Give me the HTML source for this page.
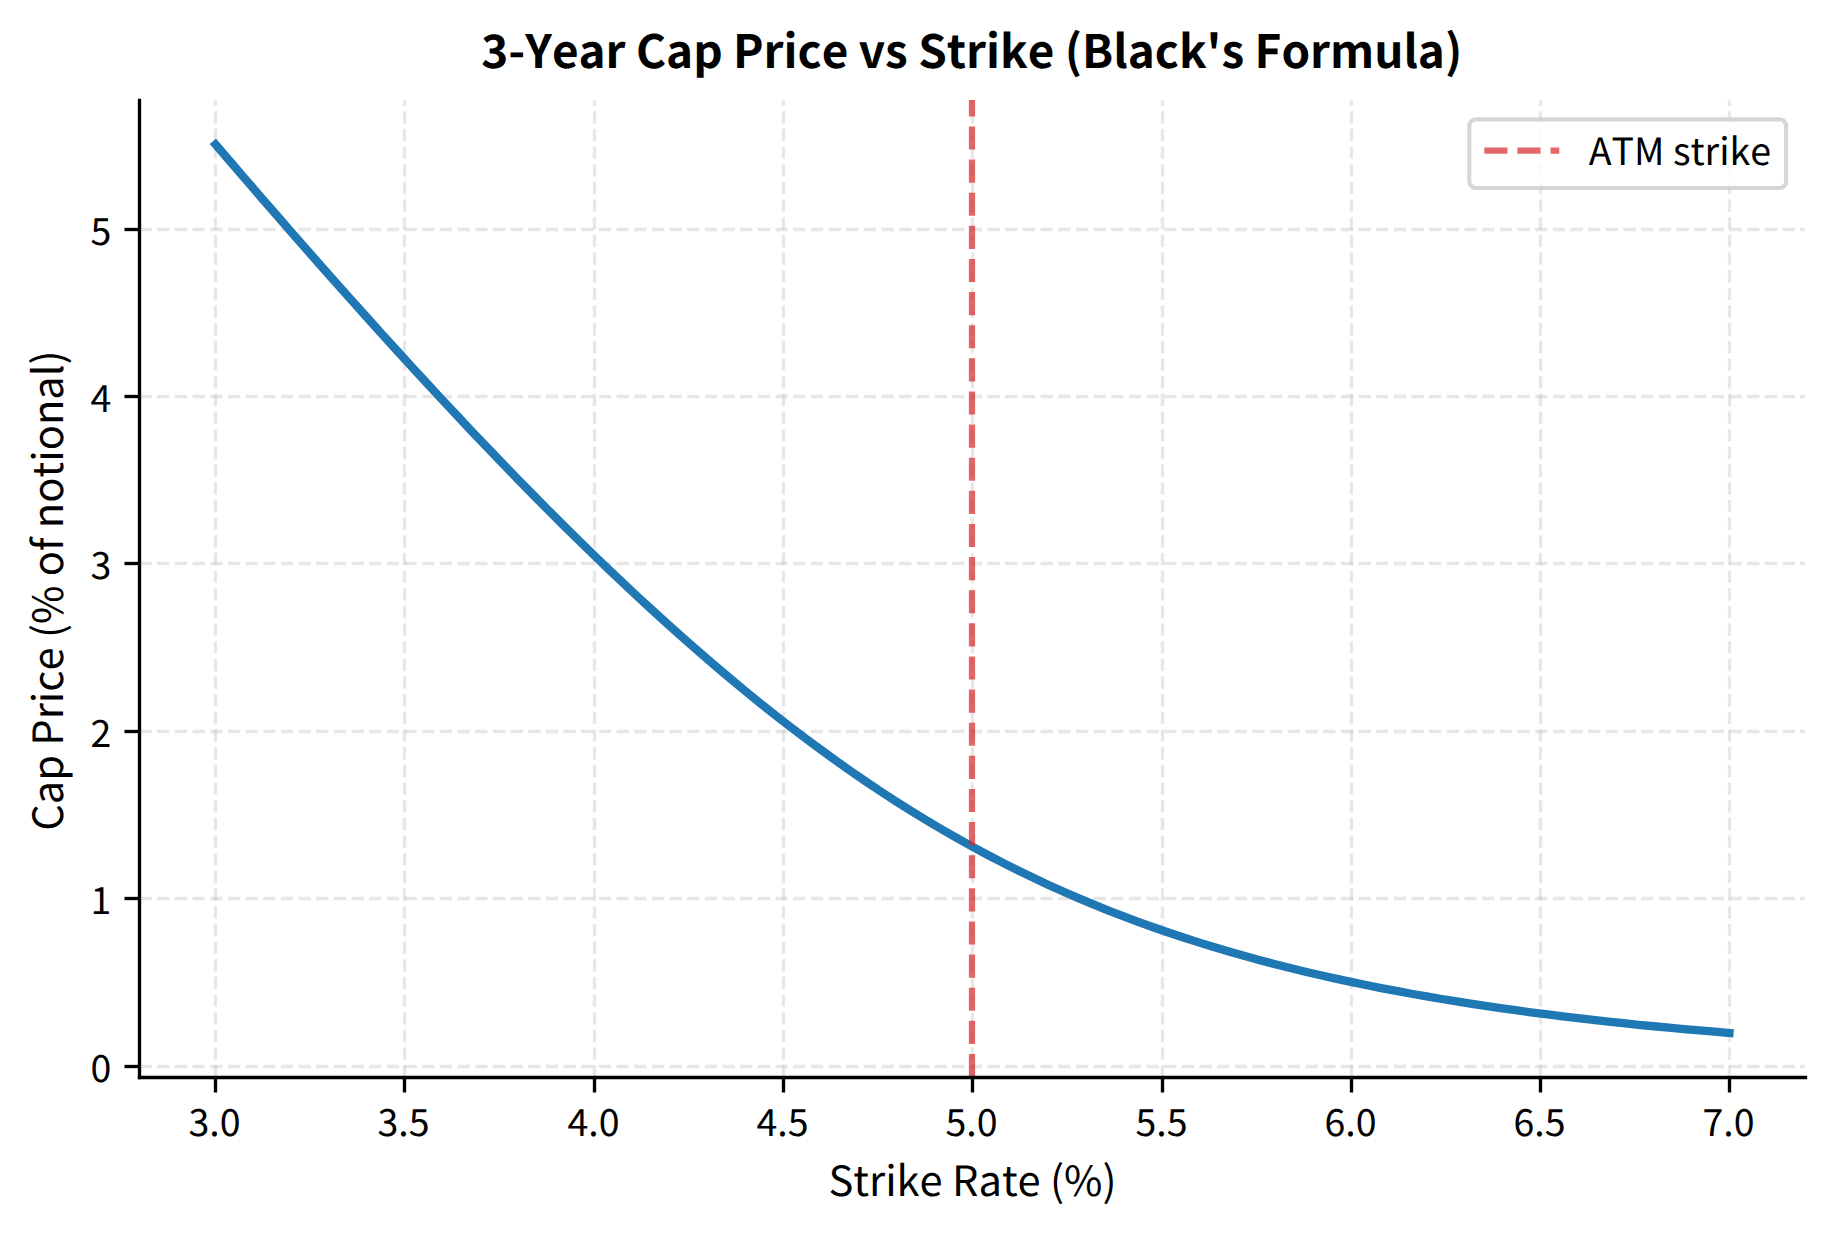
<!DOCTYPE html>
<html lang="en"><head><meta charset="utf-8"><title>3-Year Cap Price vs Strike (Black's Formula)</title>
<style>
html,body{margin:0;padding:0;background:#fff;}
body{width:1834px;height:1234px;overflow:hidden;}
svg{display:block;}
text{font-family:"Noto Sans CJK JP","Noto Sans CJK SC","Liberation Sans",sans-serif;fill:#000;font-kerning:none;font-feature-settings:"kern" 0,"liga" 0;text-rendering:geometricPrecision;}
.tick{font-size:37.5px;}
.lab{font-size:41.67px;}
.title{font-size:45.83px;font-weight:bold;}
</style></head><body>
<svg width="1834" height="1234" viewBox="0 0 1834 1234">
<rect width="1834" height="1234" fill="#fff"/>
<g fill="none" stroke="#b0b0b0" stroke-opacity="0.3" stroke-width="3.333" stroke-dasharray="12.333 5.333">
<path d="M215.5 1077.5 V100.5"/>
<path d="M404.5 1077.5 V100.5"/>
<path d="M594.5 1077.5 V100.5"/>
<path d="M783.5 1077.5 V100.5"/>
<path d="M972.5 1077.5 V100.5"/>
<path d="M1162.5 1077.5 V100.5"/>
<path d="M1351.5 1077.5 V100.5"/>
<path d="M1540.5 1077.5 V100.5"/>
<path d="M1729.5 1077.5 V100.5"/>
<path d="M139.5 1066.5 H1805.0"/>
<path d="M139.5 898.5 H1805.0"/>
<path d="M139.5 731.5 H1805.0"/>
<path d="M139.5 563.5 H1805.0"/>
<path d="M139.5 396.5 H1805.0"/>
<path d="M139.5 229.5 H1805.0"/>
</g>
<polyline points="215.55,144.53 230.19,161.58 245.34,179.15 260.48,196.65 275.63,214.08 290.77,231.43 305.91,248.70 321.06,265.89 336.20,282.99 351.35,299.99 366.49,316.90 381.63,333.70 396.78,350.39 411.92,366.97 427.07,383.42 442.21,399.76 457.35,415.96 472.50,432.02 487.64,447.94 502.79,463.71 517.93,479.33 533.07,494.79 548.22,510.08 563.36,525.20 578.51,540.14 593.65,554.89 608.79,569.45 623.94,583.82 639.08,597.98 654.23,611.93 669.37,625.67 684.51,639.18 699.66,652.46 714.80,665.50 729.95,678.30 745.09,690.86 760.23,703.16 775.38,715.20 790.52,726.97 805.67,738.48 820.81,749.72 835.95,760.68 851.10,771.36 866.24,781.76 881.39,791.88 896.53,801.71 911.67,811.26 926.82,820.53 941.96,829.51 957.11,838.21 972.25,846.63 987.39,854.77 1002.54,862.65 1017.68,870.25 1032.83,877.59 1047.97,884.67 1063.11,891.50 1078.26,898.09 1093.40,904.43 1108.55,910.54 1123.69,916.42 1138.83,922.08 1153.98,927.52 1169.12,932.76 1184.27,937.80 1199.41,942.64 1214.55,947.30 1229.70,951.78 1244.84,956.08 1259.99,960.22 1275.13,964.20 1290.27,968.02 1305.42,971.69 1320.56,975.23 1335.71,978.62 1350.85,981.89 1365.99,985.03 1381.14,988.04 1396.28,990.94 1411.43,993.73 1426.57,996.41 1441.71,998.99 1456.86,1001.47 1472.00,1003.85 1487.15,1006.15 1502.29,1008.35 1517.43,1010.47 1532.58,1012.51 1547.72,1014.47 1562.87,1016.36 1578.01,1018.18 1593.15,1019.92 1608.30,1021.60 1623.44,1023.22 1638.59,1024.78 1653.73,1026.27 1668.87,1027.71 1684.02,1029.10 1699.16,1030.44 1714.31,1031.72 1729.45,1032.96" fill="none" stroke="#1f77b4" stroke-width="8.333" stroke-linecap="square" stroke-linejoin="round"/>
<path d="M972.0 1077.1 V100.0" fill="none" stroke="#d62728" stroke-opacity="0.7" stroke-width="6.25" stroke-dasharray="23.125 10.000"/>
<g fill="none" stroke="#000" stroke-width="3.333" stroke-linecap="square">
<path d="M139.5 1077.5 V100.5"/><path d="M139.5 1077.5 H1805.5"/>
</g>
<g fill="none" stroke="#000" stroke-width="3.333">
<path d="M215.5 1077.5 v15.0"/>
<path d="M404.5 1077.5 v15.0"/>
<path d="M594.5 1077.5 v15.0"/>
<path d="M783.5 1077.5 v15.0"/>
<path d="M972.5 1077.5 v15.0"/>
<path d="M1162.5 1077.5 v15.0"/>
<path d="M1351.5 1077.5 v15.0"/>
<path d="M1540.5 1077.5 v15.0"/>
<path d="M1729.5 1077.5 v15.0"/>
<path d="M139.5 1066.5 h-15.0"/>
<path d="M139.5 898.5 h-15.0"/>
<path d="M139.5 731.5 h-15.0"/>
<path d="M139.5 563.5 h-15.0"/>
<path d="M139.5 396.5 h-15.0"/>
<path d="M139.5 229.5 h-15.0"/>
</g>
<text class="tick" x="214.60" y="1136.2" text-anchor="middle">3.0</text>
<text class="tick" x="403.60" y="1136.2" text-anchor="middle">3.5</text>
<text class="tick" x="593.60" y="1136.2" text-anchor="middle">4.0</text>
<text class="tick" x="782.60" y="1136.2" text-anchor="middle">4.5</text>
<text class="tick" x="971.60" y="1136.2" text-anchor="middle">5.0</text>
<text class="tick" x="1161.60" y="1136.2" text-anchor="middle">5.5</text>
<text class="tick" x="1350.60" y="1136.2" text-anchor="middle">6.0</text>
<text class="tick" x="1539.60" y="1136.2" text-anchor="middle">6.5</text>
<text class="tick" x="1728.60" y="1136.2" text-anchor="middle">7.0</text>
<text class="tick" x="111.3" y="1081.90" text-anchor="end">0</text>
<text class="tick" x="111.3" y="913.90" text-anchor="end">1</text>
<text class="tick" x="111.3" y="746.90" text-anchor="end">2</text>
<text class="tick" x="111.3" y="578.90" text-anchor="end">3</text>
<text class="tick" x="111.3" y="411.90" text-anchor="end">4</text>
<text class="tick" x="111.3" y="244.90" text-anchor="end">5</text>
<text class="lab" x="972.5" y="1195.7" text-anchor="middle">Strike Rate (%)</text>
<text class="lab" transform="translate(63.1 590.6) rotate(-90)" text-anchor="middle">Cap Price (% of notional)</text>
<text class="title" x="971.8" y="68.1" text-anchor="middle">3-Year Cap Price vs Strike (Black's Formula)</text>
<rect x="1469.3" y="119.3" width="316.8" height="68.7" rx="6.5" ry="6.5" fill="#fff" fill-opacity="0.8" stroke="#ccc" stroke-opacity="0.8" stroke-width="4.167"/>
<path d="M1484.3 150.6 h75" fill="none" stroke="#d62728" stroke-opacity="0.7" stroke-width="6.25" stroke-dasharray="23.125 10.000"/>
<text class="tick" x="1588.8" y="164.5">ATM strike</text>
</svg></body></html>
